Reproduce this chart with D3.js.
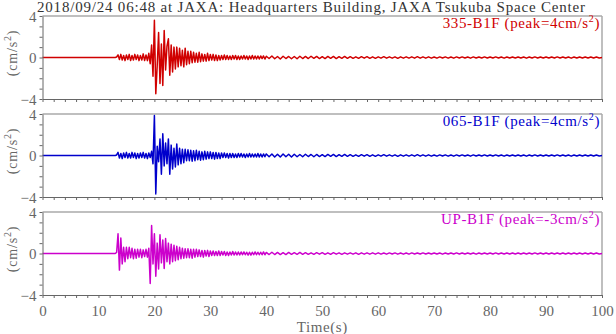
<!DOCTYPE html>
<html><head><meta charset="utf-8">
<script src="https://cdn.jsdelivr.net/npm/d3@7"></script>
<style>body{margin:0;background:#fff}svg{display:block}</style>
</head><body>
<script>
const title = "2018/09/24 06:48 at JAXA: Headquarters Building, JAXA Tsukuba Space Center";
const panelNames = ["335-B1F", "065-B1F", "UP-B1F"];
const panelPeaks = ["4", "4", "-3"];
const panelColors = ["#d00000", "#0000cc", "#cc00cc"];
const xTicksMajor = [0,10,20,30,40,50,60,70,80,90,100];
const yTickLabels = [-4, 0, 4];
const tStart = 0, tAct0 = 13, dtAct = 0.25, tTail0 = 40, dtTail = 0.5;

// acceleration samples (cm/s^2), every 0.25 s from 13 s to 39.75 s
const redActive = [
0,0.05,0.25,-0.2, 0.3,-0.25,0.2,-0.3, 0.25,-0.2,0.3,-0.3, 0.2,-0.25,0.3,-0.2,
0.25,-0.3,0.2,-0.25, 0.35,-0.3,0.25,-0.3, 0.4,-0.6,1.2,-1.8, 3.6,-3.5,-0.8,2.4,
-2.5,1.3,-2.7,2.6, -1.2,1.1,1.8,-1.7, 1.2,-1.4,1.0,-1.1, 1.0,-0.9,0.9,-0.8,
0.7,-0.9,0.9,-0.7, 0.6,-0.6,0.6,-0.5, 0.5,-0.45,0.4,-0.45, 0.5,-0.4,0.35,-0.35,
0.3,-0.35,0.4,-0.3, 0.3,-0.25,0.3,-0.3, 0.25,-0.3,0.2,-0.25, 0.2,-0.2,0.25,-0.2,
0.2,-0.2,0.15,-0.2, 0.2,-0.15,0.2,-0.2, 0.15,-0.2,0.15,-0.15, 0.2,-0.15,0.15,-0.2,
0.15,-0.15,0.2,-0.15, 0.15,-0.15,0.15,-0.15, 0.15,-0.1,0.15,-0.15];
const blueActive = [
0,0.05,0.3,-0.25, 0.2,-0.3,0.25,-0.2, 0.3,-0.25,0.2,-0.25, 0.3,-0.2,0.25,-0.3,
0.2,-0.25,0.25,-0.2, 0.3,-0.25,0.2,-0.3, 0.25,-0.2,0.4,-0.8, 3.85,-3.7,0.9,-0.6,
1.6,-1.8,2.1,-1.0, 1.2,-0.8,1.6,-1.8, 1.0,-1.3,0.7,-1.1, 1.1,-0.9,0.7,-0.8,
0.6,-0.7,0.6,-0.5, 0.55,-0.5,0.5,-0.55, 0.45,-0.5,0.5,-0.4, 0.4,-0.45,0.35,-0.4,
0.4,-0.35,0.35,-0.3, 0.35,-0.3,0.3,-0.35, 0.3,-0.3,0.25,-0.3, 0.25,-0.2,0.25,-0.2,
0.2,-0.25,0.2,-0.2, 0.2,-0.2,0.15,-0.2, 0.2,-0.15,0.2,-0.15, 0.15,-0.2,0.15,-0.15,
0.2,-0.15,0.15,-0.15, 0.15,-0.15,0.2,-0.15, 0.15,-0.15,0.15,-0.12];
const magentaActive = [
0,0.1,1.9,-1.6, 1.5,-1.0,0.6,-0.8, 0.6,-0.5,0.6,-0.4, 0.5,-0.5,0.4,-0.45,
0.4,-0.35,0.4,-0.4, 0.35,-0.3,0.4,-0.35, 0.5,-2.9,2.7,-1.0, 1.9,-2.2,1.0,-1.5,
1.8,-0.9,1.3,-1.45, 1.45,-0.8,1.0,-1.0, 0.9,-0.8,0.8,-0.7, 0.7,-0.6,0.6,-0.5,
0.5,-0.45,0.45,-0.4, 0.45,-0.4,0.4,-0.45, 0.4,-0.35,0.4,-0.3, 0.35,-0.3,0.3,-0.35,
0.3,-0.25,0.3,-0.3, 0.25,-0.2,0.25,-0.2, 0.2,-0.2,0.25,-0.2, 0.2,-0.15,0.2,-0.2,
0.15,-0.2,0.15,-0.15, 0.2,-0.15,0.15,-0.15, 0.15,-0.15,0.15,-0.12, 0.15,-0.12,0.12,-0.15,
0.12,-0.15,0.12,-0.12, 0.15,-0.12,0.12,-0.12, 0.12,-0.12,0.15,-0.12];
// every 0.5 s from 40 s to 100 s
const redTail = [
0.12,-0.1,0.15,-0.12,0.1,-0.15,0.12,-0.1,0.1,-0.12,
0.1,-0.12,0.12,-0.1,0.1,-0.1,0.12,-0.08,0.1,-0.1,
0.08,-0.1,0.1,-0.08,0.1,-0.1,0.08,-0.08,0.1,-0.08,
0.08,-0.08,0.06,-0.08,0.08,-0.06,0.08,-0.08,0.06,-0.08,
0.06,-0.06,0.08,-0.06,0.06,-0.06,0.06,-0.08,0.06,-0.06,
0.06,-0.06,0.06,-0.06,0.08,-0.06,0.06,-0.06,0.06,-0.06,
0.05,-0.06,0.06,-0.05,0.06,-0.06,0.05,-0.06,0.06,-0.05,
0.06,-0.05,0.05,-0.06,0.06,-0.05,0.05,-0.05,0.06,-0.05,
0.05,-0.05,0.06,-0.05,0.05,-0.06,0.05,-0.05,0.05,-0.05,
0.05,-0.05,0.05,-0.06,0.05,-0.05,0.06,-0.05,0.05,-0.05,
0.05,-0.05,0.05,-0.05,0.06,-0.05,0.05,-0.05,0.05,-0.06,
0.05,-0.05,0.05,-0.05,0.05,-0.05,0.05,-0.05,0.05,-0.05, 0];
const blueTail = [
0.15,-0.12,0.15,-0.15,0.12,-0.15,0.15,-0.12,0.12,-0.15,
0.12,-0.12,0.1,-0.12,0.12,-0.1,0.1,-0.12,0.1,-0.1,
0.08,-0.1,0.1,-0.08,0.1,-0.1,0.08,-0.08,0.1,-0.08,
0.08,-0.08,0.06,-0.08,0.08,-0.06,0.08,-0.08,0.06,-0.08,
0.06,-0.06,0.08,-0.06,0.06,-0.06,0.06,-0.08,0.06,-0.06,
0.06,-0.06,0.06,-0.06,0.08,-0.06,0.06,-0.06,0.06,-0.06,
0.05,-0.06,0.06,-0.05,0.06,-0.06,0.05,-0.06,0.06,-0.05,
0.06,-0.05,0.05,-0.06,0.06,-0.05,0.05,-0.05,0.06,-0.05,
0.05,-0.05,0.06,-0.05,0.05,-0.06,0.05,-0.05,0.05,-0.05,
0.05,-0.05,0.05,-0.06,0.05,-0.05,0.06,-0.05,0.05,-0.05,
0.05,-0.05,0.05,-0.05,0.06,-0.05,0.05,-0.05,0.05,-0.06,
0.05,-0.05,0.05,-0.05,0.05,-0.05,0.05,-0.05,0.05,-0.05, 0];
const magentaTail = [
0.1,-0.1,0.12,-0.1,0.1,-0.1,0.08,-0.1,0.1,-0.08,
0.08,-0.08,0.1,-0.08,0.08,-0.08,0.06,-0.08,0.08,-0.06,
0.08,-0.08,0.06,-0.08,0.08,-0.06,0.06,-0.08,0.06,-0.06,
0.06,-0.06,0.06,-0.08,0.06,-0.06,0.06,-0.06,0.06,-0.06,
0.06,-0.06,0.05,-0.06,0.06,-0.05,0.06,-0.06,0.05,-0.06,
0.05,-0.06,0.06,-0.05,0.05,-0.05,0.06,-0.05,0.05,-0.05,
0.05,-0.05,0.05,-0.06,0.05,-0.05,0.05,-0.05,0.06,-0.05,
0.05,-0.05,0.05,-0.05,0.05,-0.06,0.05,-0.05,0.05,-0.05,
0.05,-0.05,0.06,-0.05,0.05,-0.05,0.05,-0.05,0.05,-0.05,
0.05,-0.05,0.05,-0.05,0.05,-0.05,0.06,-0.05,0.05,-0.05,
0.05,-0.05,0.05,-0.05,0.05,-0.05,0.05,-0.05,0.05,-0.05,
0.05,-0.05,0.05,-0.05,0.05,-0.05,0.05,-0.05,0.05,-0.05, 0];

const actives = [redActive, blueActive, magentaActive];
const tails = [redTail, blueTail, magentaTail];

const W = 616, H = 334;
const FONT = "'Liberation Serif', 'Times New Roman', serif";
const svg = d3.select("body").append("svg").attr("width", W).attr("height", H)
  .style("font-family", FONT);

const x = d3.scaleLinear().domain([0, 100]).range([42.5, 602]);
const panelTop = [16, 114, 212], panelH = 83;
const axisCol = "#666", frameCol = "#aaa", textCol = "#666";

svg.append("text").attr("x", 37).attr("y", 12).attr("font-size", 15).attr("fill", "#333")
  .attr("textLength", 548).attr("lengthAdjust", "spacing")
  .text(title);

panelNames.forEach((name, k) => {
  const top = panelTop[k];
  const y = d3.scaleLinear().domain([-4, 4]).range([top + panelH, top]);
  const g = svg.append("g");
  g.append("line").attr("x1", x(0)).attr("x2", x(100)).attr("y1", top).attr("y2", top)
    .attr("stroke", frameCol).attr("stroke-width", 1.5);
  g.append("line").attr("x1", x(100)).attr("x2", x(100)).attr("y1", top).attr("y2", top + panelH)
    .attr("stroke", frameCol).attr("stroke-width", 1.5);

  const pts = [{t: tStart, v: 0}];
  actives[k].forEach((v, i) => pts.push({t: tAct0 + i * dtAct, v}));
  tails[k].forEach((v, i) => pts.push({t: tTail0 + i * dtTail, v}));
  g.append("path").datum(pts)
    .attr("fill", "none").attr("stroke", panelColors[k]).attr("stroke-width", 1.5)
    .attr("stroke-linejoin", "round")
    .attr("d", d3.line().x(d => x(d.t)).y(d => y(d.v)));

  const ya = g.append("g").attr("transform", `translate(${x(0)},0)`)
    .call(d3.axisLeft(y).tickValues(d3.range(-4, 5, 1)).tickSize(3).tickSizeOuter(0).tickPadding(3)
      .tickFormat(d => yTickLabels.includes(d) ? d3.format("d")(d) : ""));
  const xa = g.append("g").attr("transform", `translate(0,${top + panelH})`)
    .call(d3.axisBottom(x).tickValues(d3.range(0, 101, 2)).tickSize(3).tickSizeOuter(0).tickPadding(7)
      .tickFormat(d => (k === 2 && xTicksMajor.includes(d)) ? d : ""));
  [ya, xa].forEach(a => {
    a.select(".domain").attr("stroke", axisCol);
    a.selectAll(".tick line").attr("stroke", axisCol);
    a.selectAll(".tick text").attr("fill", textCol).attr("font-size", 15)
      .style("font-family", FONT);
  });
  ya.selectAll(".tick text").attr("dy", "0.35em");

  const lab = g.append("text").attr("x", 600).attr("y", top + 12).attr("text-anchor", "end")
    .attr("font-size", 15).attr("fill", panelColors[k]).attr("letter-spacing", 0.6);
  lab.append("tspan").text(`${name} (peak=${panelPeaks[k]}cm/s`);
  lab.append("tspan").attr("dy", -6).attr("font-size", 10).text("2");
  lab.append("tspan").attr("dy", 6).text(")");

  const yl = g.append("text").attr("transform", `translate(17,${top + 37}) rotate(-90)`)
    .attr("text-anchor", "middle").attr("font-size", 14).attr("fill", textCol)
    .attr("letter-spacing", 0.8);
  yl.append("tspan").text("(cm/s");
  yl.append("tspan").attr("dy", -6).attr("font-size", 10).text("2");
  yl.append("tspan").attr("dy", 6).text(")");
});

svg.append("text").attr("x", (x(0) + x(100)) / 2).attr("y", 332).attr("text-anchor", "middle")
  .attr("font-size", 15).attr("fill", textCol).attr("letter-spacing", 0.6).text("Time(s)");
</script>
</body></html>
